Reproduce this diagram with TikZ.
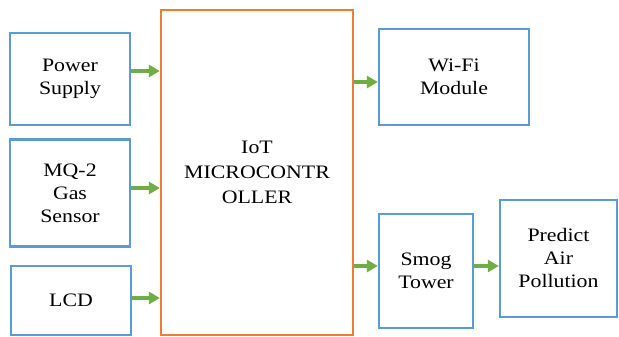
\documentclass[tikz,border=0pt]{standalone}
\usepackage{fontspec}
\setmainfont{Liberation Serif}
\newfontfamily\wideserif[FakeStretch=1.15]{Liberation Serif}
\usetikzlibrary{arrows.meta}
\definecolor{bbox}{HTML}{5B9BD5}
\definecolor{obox}{HTML}{ED7D31}
\definecolor{garr}{HTML}{70AD47}
\begin{document}
\begin{tikzpicture}[x=1pt,y=1pt,
  blk/.style={draw=bbox,line width=2.3pt,rectangle,align=center,inner sep=0pt,
    font=\wideserif\fontsize{19}{23}\selectfont},
  mcubox/.style={draw=obox,line width=2.3pt,rectangle,align=center,inner sep=0pt,
    font=\wideserif\fontsize{19}{25}\selectfont},
  arr/.style={draw=garr,line width=3.4pt,-{Triangle[length=11pt,width=12pt]}}]
\useasboundingbox (0,0) rectangle (619,337);
\node[blk,minimum width=120,minimum height=92] (ps) at (70,258) {Power\\Supply};
\node[blk,minimum width=120,minimum height=107] (mq) at (70,144) {MQ-2\\Gas\\Sensor};
\node[blk,minimum width=120,minimum height=69] (lcd) at (71,36.5) {LCD};
\node[mcubox,minimum width=192,minimum height=325] (mcu) at (257,164.5) {IoT\\MICROCONTR\\OLLER};
\node[blk,minimum width=150,minimum height=96] (wifi) at (454,260) {Wi-Fi\\Module};
\node[blk,minimum width=94,minimum height=114] (smog) at (426,66) {Smog\\Tower};
\node[blk,minimum width=117,minimum height=117] (pred) at (558.5,78.5) {Predict\\Air\\Pollution};
\coordinate (a1) at ([yshift=8pt]ps.east);
\coordinate (a2) at ([yshift=5pt]mq.east);
\coordinate (a3) at ([yshift=2.5pt]lcd.east);
\coordinate (a4) at ([yshift=-5pt]wifi.west);
\coordinate (a5) at ([yshift=5pt]smog.west);
\coordinate (a6) at ([yshift=5pt]smog.east);
\draw[arr] (a1) -- (a1 -| mcu.west);
\draw[arr] (a2) -- (a2 -| mcu.west);
\draw[arr] (a3) -- (a3 -| mcu.west);
\draw[arr] (a4 -| mcu.east) -- (a4);
\draw[arr] (a5 -| mcu.east) -- (a5);
\draw[arr] (a6) -- (a6 -| pred.west);
\end{tikzpicture}
\end{document}
